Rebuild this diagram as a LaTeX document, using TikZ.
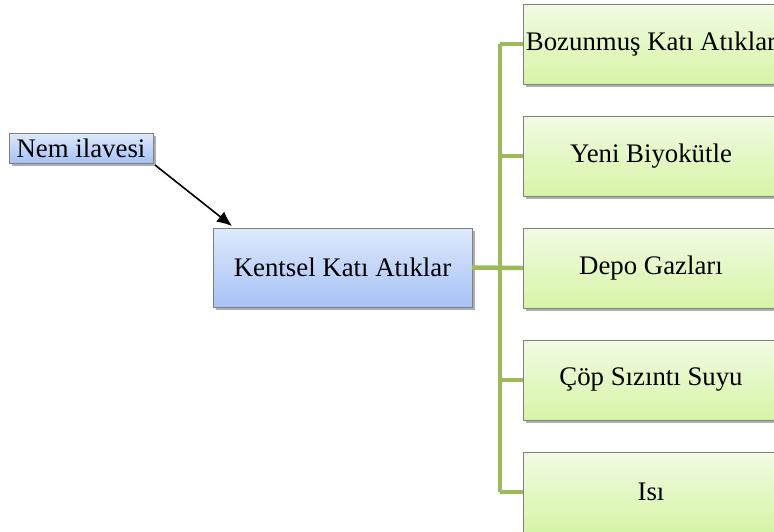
\documentclass[tikz,border=0pt]{standalone}
\usepackage{fontspec}
\setmainfont{Liberation Serif}
\usetikzlibrary{shadows,arrows.meta,calc}
\definecolor{linegreen}{HTML}{9BBB59}
\definecolor{greentop}{HTML}{F2FBE3}
\definecolor{greenbot}{HTML}{D6F4A6}
\definecolor{bluetop}{HTML}{DEE9FC}
\definecolor{bluebot}{HTML}{A6C2F5}
\definecolor{boxborder}{HTML}{808080}
\tikzset{
  basebox/.style={draw=boxborder, line width=0.8pt, anchor=north west, outer sep=0pt, inner sep=0pt,
    font=\fontsize{26.8}{31}\selectfont, text=black,
    drop shadow={shadow xshift=2.5pt, shadow yshift=-3pt, opacity=0.45, fill=black!70}},
  greenbox/.style={basebox, top color=greentop, bottom color=greenbot, minimum width=256pt, minimum height=80pt},
  bluebox/.style={basebox, top color=bluetop, bottom color=bluebot},
  greenline/.style={draw=linegreen, line width=4.5pt},
}
\begin{document}
\begin{tikzpicture}[x=1pt,y=-1pt]
\useasboundingbox (0,0) rectangle (774,531);
\draw[greenline] (500,44) -- (500,492);
\node[bluebox, minimum width=144pt, minimum height=30pt] (nem) at (9,133) {Nem ilavesi};
\node[bluebox, minimum width=259pt, minimum height=79pt] (kent) at (213,228) {Kentsel Katı Atıklar};
\node[greenbox] (b1) at (523,4) {Bozunmuş Katı Atıklar};
\node[greenbox] (b2) at (523,116) {Yeni Biyokütle};
\node[greenbox] (b3) at (523,228) {Depo Gazları};
\node[greenbox] (b4) at (523,340) {Çöp Sızıntı Suyu};
\node[greenbox] (b5) at (523,452) {Isı};
\coordinate (trunk) at (500,268);
\draw[greenline] (kent.east) -- (b3.west);
\foreach \b in {b1,b2,b4,b5}{
  \draw[greenline] (\b.west) -- (\b.west -| trunk);
}
\draw[line width=1.6pt, -{Latex[length=15pt,width=13pt]}] ([xshift=2pt,yshift=-2pt]nem.south east) -- ([xshift=19pt,yshift=2pt]kent.north west);
\end{tikzpicture}
\end{document}
